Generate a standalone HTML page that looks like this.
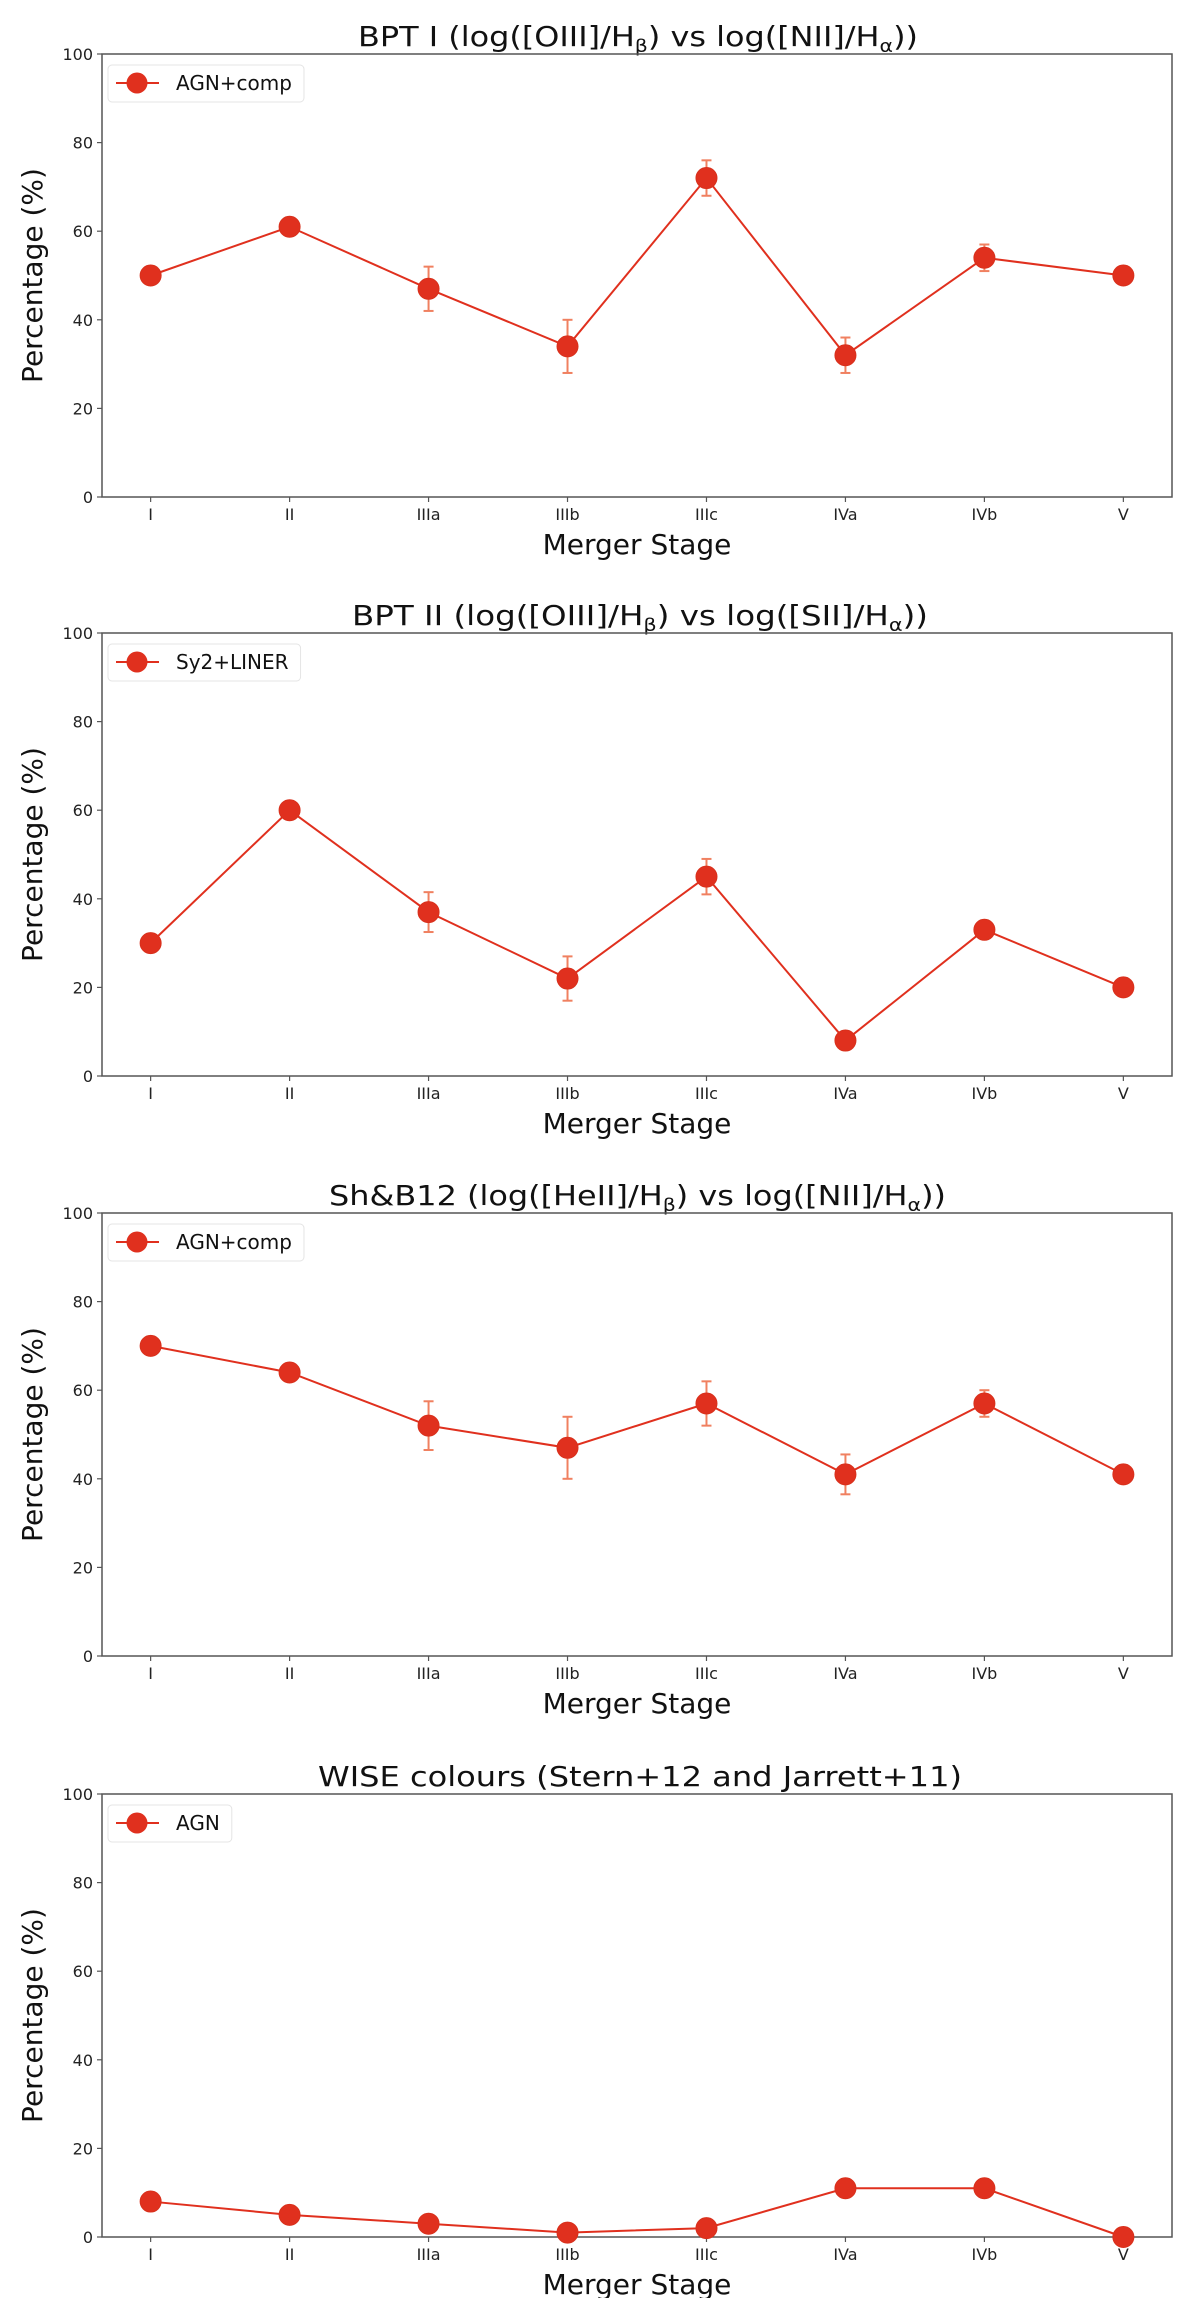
<!DOCTYPE html>
<html><head><meta charset="utf-8"><style>
html,body{margin:0;padding:0;background:#fff;}
svg{display:block;font-family:"DejaVu Sans","Liberation Sans",sans-serif;}
</style></head><body>
<svg id="fig" width="1200" height="2298" viewBox="0 0 1200 2298" xmlns="http://www.w3.org/2000/svg"></svg>
<script>
const categories = ["I","II","IIIa","IIIb","IIIc","IVa","IVb","V"];
const yTicks = [0,20,40,60,80,100];
const bpt1Values = [50,61,47,34,72,32,54,50];
const bpt1Errors = [0,1,5,6,4,4,3,0];
const bpt2Values = [30,60,37,22,45,8,33,20];
const bpt2Errors = [0,0,4.5,5,4,1.5,1.5,0];
const shbValues = [70,64,52,47,57,41,57,41];
const shbErrors = [0,2,5.5,7,5,4.5,3,0];
const wiseValues = [8,5,3,1,2,11,11,0];
const wiseErrors = [0,0,0,0,0,2,1,0];

const NS="http://www.w3.org/2000/svg";
const svg=document.getElementById('fig');
const RED="#e0301e", ERR="#f08060";
function mk(tag,attrs,parent){const e=document.createElementNS(NS,tag);for(const k in attrs)e.setAttribute(k,attrs[k]);(parent||svg).appendChild(e);return e;}

const panels=[
 {top:54,title:[["BPT I (log([OIII]/H"],["β","sub"],[") vs log([NII]/H"],["α","sub"],["))"]],tl:[358,918],legend:"AGN+comp",vals:bpt1Values,errs:bpt1Errors,name:"bpt1"},
 {top:633,title:[["BPT II (log([OIII]/H"],["β","sub"],[") vs log([SII]/H"],["α","sub"],["))"]],tl:[352,928],legend:"Sy2+LINER",vals:bpt2Values,errs:bpt2Errors,name:"bpt2"},
 {top:1213,title:[["Sh&B12 (log([HeII]/H"],["β","sub"],[") vs log([NII]/H"],["α","sub"],["))"]],tl:[329,946],legend:"AGN+comp",vals:shbValues,errs:shbErrors,name:"shb12"},
 {top:1794,title:[["WISE colours (Stern+12 and Jarrett+11)"]],tl:[318,962],legend:"AGN",vals:wiseValues,errs:wiseErrors,name:"wise"}
];
const L=102,R=1172,H=443;
function xs(i){return L+(i+0.35)*(R-L)/7.7;}

panels.forEach(p=>{
 const g=mk('g',{});
 
 
 const ys=v=>p.top+H-v/100*H;
 const t=mk('text',{x:p.tl[0],y:p.top-8,'font-size':28,fill:'#111',textLength:p.tl[1]-p.tl[0],lengthAdjust:'spacingAndGlyphs'},g);
 
 
 let prevSub=false;
 p.title.forEach(s=>{const ts=mk('tspan',{},t);ts.textContent=s[0];if(s[1]){ts.setAttribute('font-size',18);ts.setAttribute('dy',6);prevSub=true;}else if(prevSub){ts.setAttribute('dy',-6);prevSub=false;}});
 const fr=mk('rect',{x:L,y:p.top,width:R-L,height:H,fill:'none',stroke:'#555','stroke-width':1.5},g);
 
 
 yTicks.forEach(v=>{
  mk('line',{x1:L-5,x2:L,y1:ys(v),y2:ys(v),stroke:'#555','stroke-width':1.2},g);
  const tl=mk('text',{x:L-9,y:ys(v)+6,'font-size':16,'text-anchor':'end',fill:'#222'},g);
  tl.textContent=v;
  
  
 });
 categories.forEach((c,i)=>{
  mk('line',{x1:xs(i),x2:xs(i),y1:p.top+H,y2:p.top+H+5,stroke:'#555','stroke-width':1.2},g);
  const tl=mk('text',{x:xs(i),y:p.top+H+23,'font-size':16,'text-anchor':'middle',fill:'#222'},g);
  tl.textContent=c;
  
  
 });
 const xl=mk('text',{x:(L+R)/2,y:p.top+H+57,'font-size':28,'text-anchor':'middle',fill:'#111'},g);
 xl.textContent="Merger Stage";
 
 
 const yl=mk('text',{x:0,y:0,'font-size':28,'text-anchor':'middle',fill:'#111',transform:`translate(42,${p.top+H/2}) rotate(-90)`},g);
 yl.textContent="Percentage (%)";
 
 
 const pts=p.vals.map((v,i)=>xs(i)+','+ys(v)).join(' ');
 const pl=mk('polyline',{points:pts,fill:'none',stroke:RED,'stroke-width':2},g);
 
 
 p.vals.forEach((v,i)=>{
  const e=p.errs[i];
  if(e>0){
   const eg=mk('g',{stroke:ERR,'stroke-width':2},g);
   
   
   mk('line',{x1:xs(i),x2:xs(i),y1:ys(v-e),y2:ys(v+e)},eg);
   mk('line',{x1:xs(i)-5,x2:xs(i)+5,y1:ys(v-e),y2:ys(v-e)},eg);
   mk('line',{x1:xs(i)-5,x2:xs(i)+5,y1:ys(v+e),y2:ys(v+e)},eg);
  }
  const c=mk('circle',{cx:xs(i),cy:ys(v),r:10.5,fill:RED,stroke:'#d8301c','stroke-width':1},g);
  
  
 });
 const lg=mk('g',{},g);
 
 
 const box=mk('rect',{x:108,y:p.top+11,width:200,height:37,rx:4,fill:'#fff',stroke:'#e4e4e4','stroke-width':1},lg);
 mk('line',{x1:116,x2:159,y1:p.top+29,y2:p.top+29,stroke:RED,'stroke-width':2},lg);
 mk('circle',{cx:137,cy:p.top+29,r:10.5,fill:RED},lg);
 const lt=mk('text',{x:176,y:p.top+36,'font-size':20,fill:'#111'},lg);
 lt.textContent=p.legend;
 
 
 box.setAttribute('width', 176-108 + lt.getComputedTextLength() + 12);
});
</script>
</body></html>
